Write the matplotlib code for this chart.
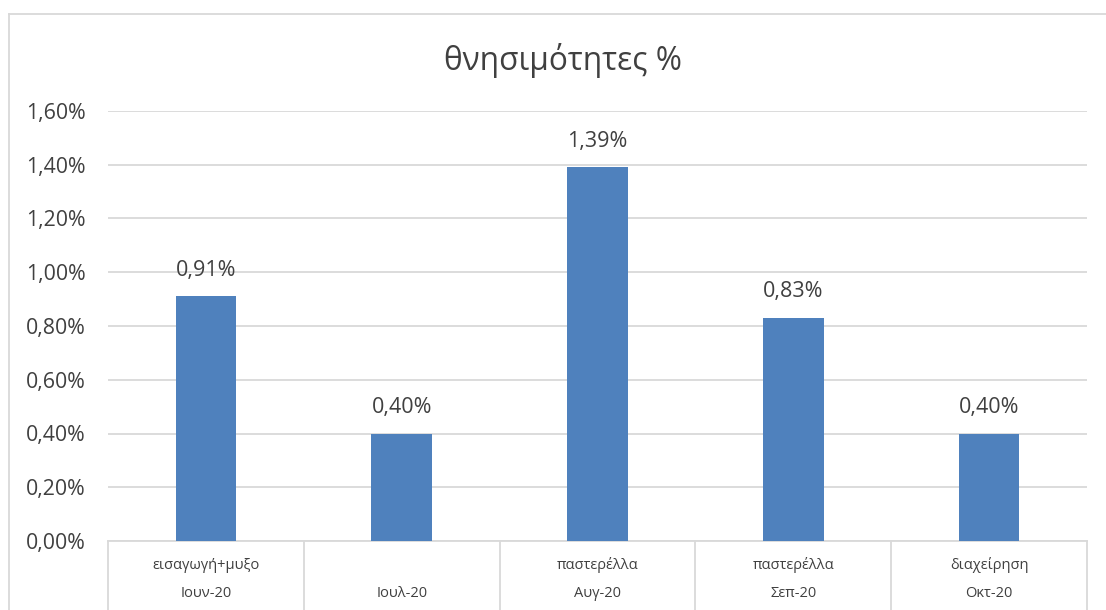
import matplotlib
matplotlib.use("Agg")
import matplotlib.pyplot as plt
from matplotlib.lines import Line2D
from matplotlib.ticker import FuncFormatter, MultipleLocator
import matplotlib.transforms as mtransforms

plt.rcParams["font.family"] = ["Open Sans", "Noto Sans", "DejaVu Sans"]

# monthly mortality (%) with the cause noted for each month
months = ["Ιουν-20", "Ιουλ-20", "Αυγ-20", "Σεπ-20", "Οκτ-20"]
causes = ["εισαγωγή+μυξο", "", "παστερέλλα", "παστερέλλα", "διαχείρηση"]
mortality = [0.91, 0.40, 1.39, 0.83, 0.40]

BAR = "#4F81BD"
GRID = "#D9D9D9"
TEXT = "#404040"

W, H = 1106, 610
fig = plt.figure(figsize=(W / 100, H / 100), dpi=100)
ax = fig.add_axes([108 / W, (H - 541) / H, (1087 - 108) / W, (541 - 111) / H])

x = list(range(len(months)))
bars = ax.bar(x, mortality, width=0.31, color=BAR, zorder=3)

ax.set_xlim(-0.5, len(months) - 0.5)
ax.set_ylim(0, 1.6)
ax.yaxis.set_major_locator(MultipleLocator(0.2))
ax.yaxis.set_major_formatter(FuncFormatter(lambda v, p: f"{v:.2f}%".replace(".", ",")))
ax.grid(axis="y", color=GRID, linewidth=1.3, zorder=0)
ax.tick_params(axis="y", length=0, pad=16, labelsize=15.3, labelcolor=TEXT)
ax.set_xticks([])
for side in ["top", "right", "left", "bottom"]:
    ax.spines[side].set_visible(False)

# value labels above each bar
for xi, v in zip(x, mortality):
    ax.annotate(f"{v:.2f}%".replace(".", ","), (xi, v), xytext=(0, 19),
                textcoords="offset points", ha="center", va="center",
                fontsize=15.5, color=TEXT)

# two-level category axis: boxes below the plot with cause and month
trans = mtransforms.blended_transform_factory(ax.transData, ax.transAxes)
ax.plot([-0.5, len(months) - 0.5], [0, 0], color=GRID, lw=1.3,
        transform=trans, clip_on=False)
for b in range(len(months) + 1):
    ax.plot([b - 0.5, b - 0.5], [0, -0.2], color=GRID, lw=1.3,
            transform=trans, clip_on=False)
for xi, c, m in zip(x, causes, months):
    ax.text(xi, -0.056, c, transform=trans, ha="center", va="center",
            fontsize=10.5, color=TEXT)
    ax.text(xi, -0.121, m, transform=trans, ha="center", va="center",
            fontsize=10.5, color=TEXT)

fig.text(563 / W, 1 - 60 / H, "θνησιμότητες %", ha="center", va="center",
         fontsize=22.8, color=TEXT)

# chart area border (left and top edges)
fig.add_artist(Line2D([8.5 / W, 8.5 / W], [0, 1 - 13.5 / H], color=GRID, lw=1.3,
                      transform=fig.transFigure))
fig.add_artist(Line2D([8.5 / W, 1], [1 - 13.5 / H, 1 - 13.5 / H], color=GRID, lw=1.3,
                      transform=fig.transFigure))

fig.savefig("out.png", dpi=100)
